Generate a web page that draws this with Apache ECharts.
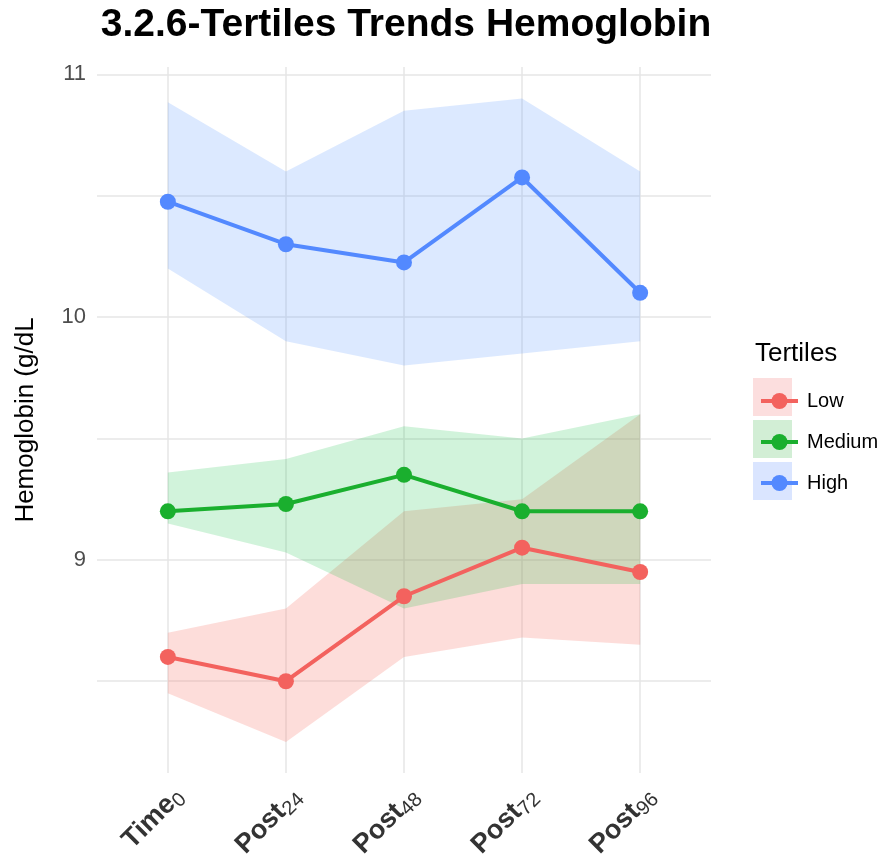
<!DOCTYPE html>
<html>
<head>
<meta charset="utf-8">
<script src="https://cdn.jsdelivr.net/npm/echarts@6/dist/echarts.min.js"></script>
<style>html,body{margin:0;padding:0;background:#fff}#c{width:883px;height:859px}</style>
</head>
<body>
<div id="c"></div>
<script>
const xMain = ['Time', 'Post', 'Post', 'Post', 'Post'];
const xSub = ['0', '24', '48', '72', '96'];
const seriesNames = ['Low', 'Medium', 'High'];
const lowMean = [8.60, 8.50, 8.85, 9.05, 8.95];
const lowLower = [8.45, 8.25, 8.60, 8.68, 8.65];
const lowUpper = [8.70, 8.80, 9.20, 9.25, 9.60];
const medMean = [9.20, 9.23, 9.35, 9.20, 9.20];
const medLower = [9.15, 9.03, 8.80, 8.90, 8.90];
const medUpper = [9.36, 9.415, 9.55, 9.50, 9.60];
const highMean = [10.475, 10.30, 10.225, 10.575, 10.10];
const highLower = [10.20, 9.90, 9.80, 9.85, 9.90];
const highUpper = [10.885, 10.60, 10.85, 10.90, 10.60];
const yMajor = [9, 10, 11];
const yGrid = [8.5, 9, 9.5, 10, 10.5, 11];

const lineColors = ['#F3625E', '#1AAF2E', '#5389FF'];
const fillColors = ['rgba(248,118,109,0.25)', 'rgba(0,186,56,0.18)', 'rgba(97,156,255,0.22)'];
const keyFill = ['#FCDEDE', '#D2EED5', '#DAE5FF'];

const means = [lowMean, medMean, highMean];
const lowers = [lowLower, medLower, highLower];
const uppers = [lowUpper, medUpper, highUpper];

const chart = echarts.init(document.getElementById('c'));

const ribbonSeries = seriesNames.map((n, k) => ({
  type: 'custom',
  name: n + ' band',
  z: 1,
  silent: true,
  data: lowers[k].map((v, i) => [i, v, uppers[k][i]]),
  renderItem: function (params, api) {
    if (params.dataIndex !== 0) return null;
    const pts = [];
    for (let i = 0; i < uppers[k].length; i++) pts.push(api.coord([i, uppers[k][i]]));
    for (let i = lowers[k].length - 1; i >= 0; i--) pts.push(api.coord([i, lowers[k][i]]));
    return { type: 'polygon', shape: { points: pts }, style: { fill: fillColors[k] } };
  }
}));

const lineSeries = seriesNames.map((n, k) => ({
  type: 'line',
  name: n,
  z: 3,
  data: means[k].map((v, i) => [i, v]),
  symbol: 'circle',
  symbolSize: 16,
  itemStyle: { color: lineColors[k] },
  lineStyle: { color: lineColors[k], width: 4 },
  emphasis: { disabled: true },
  animation: false
}));

const option = {
  animation: false,
  backgroundColor: '#fff',
  title: [
    { text: '3.2.6-Tertiles Trends Hemoglobin', left: 401, textAlign: 'center', top: 1,
      textStyle: { fontFamily: 'Liberation Sans', fontWeight: 'bold', fontSize: 39, color: '#000' } },
    { text: 'Tertiles', left: 750, top: 336,
      textStyle: { fontFamily: 'Liberation Sans', fontWeight: 'normal', fontSize: 26, color: '#000' } }
  ],
  grid: { left: 97, right: 172, top: 67, bottom: 86, containLabel: false, outerBoundsMode: 'none' },
  xAxis: {
    type: 'value', min: -0.6, max: 4.6,
    axisLine: { show: false },
    axisTick: { show: false, customValues: [0, 1, 2, 3, 4] },
    splitLine: { show: true, lineStyle: { color: '#E6E6E6', width: 1.5 } },
    axisLabel: {
      customValues: [0, 1, 2, 3, 4],
      rotate: 45, margin: 8, verticalAlign: 'top',
      formatter: function (v) { const i = Math.round(v); return '{b|' + xMain[i] + '}{s|' + xSub[i] + '}'; },
      rich: {
        b: { fontFamily: 'Liberation Sans', fontWeight: 'bold', fontSize: 27, color: '#333' },
        s: { fontFamily: 'Liberation Sans', fontSize: 20, color: '#333', padding: [12, 0, 0, 0] }
      }
    }
  },
  yAxis: {
    type: 'value', min: 8.122, max: 11.03,
    name: 'Hemoglobin (g/dL', nameLocation: 'middle', nameGap: 58, nameRotate: 90,
    nameTextStyle: { fontFamily: 'Liberation Sans', fontSize: 26, color: '#000' },
    axisLine: { show: false },
    axisTick: { show: false, customValues: yGrid },
    splitLine: { show: true, lineStyle: { color: '#E6E6E6', width: 1.5 } },
    axisLabel: {
      customValues: yMajor, margin: 11,
      fontFamily: 'Liberation Sans', fontSize: 22, color: '#4D4D4D'
    }
  },
  legend: {
    data: seriesNames,
    orient: 'vertical', left: 754, top: 386,
    itemWidth: 37, itemHeight: 20, itemGap: 21,
    lineStyle: { width: 4 },
    textStyle: { fontFamily: 'Liberation Sans', fontSize: 20, color: '#000', padding: [0, 0, 0, 4] },
    selectedMode: false
  },
  graphic: keyFill.map((c, k) => ({
    type: 'rect', left: 753, top: 378 + k * 42, z: -1,
    shape: { width: 39, height: 38 }, style: { fill: c }
  })),
  series: ribbonSeries.concat(lineSeries)
};
chart.setOption(option);
</script>
</body>
</html>
